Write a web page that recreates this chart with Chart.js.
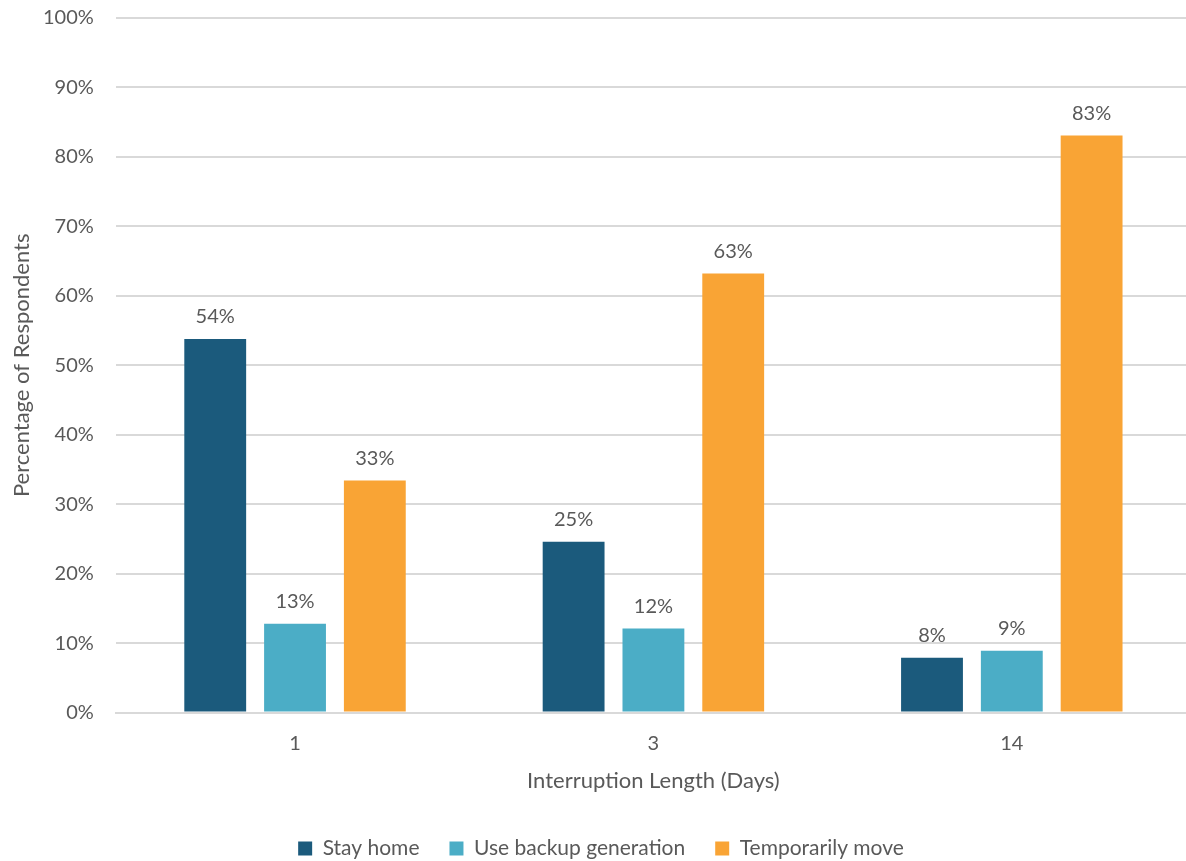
<!DOCTYPE html>
<html>
<head>
<meta charset="utf-8">
<script src="https://cdn.jsdelivr.net/npm/chart.js@4"></script>
<style>
  html, body { margin: 0; padding: 0; background: #fff; overflow: hidden; }
  #wrap { width: 1186px; height: 861px; overflow: hidden; }
  #grafica1 { display: block; margin-top: -16px; }
</style>
</head>
<body>
<div id="wrap"><canvas id="grafica1" width="1192" height="885"></canvas></div>
<script>
const dias = ['1', '3', '14'];
const stayHome = [53.8, 24.6, 7.9];
const backupGen = [12.8, 12.1, 8.9];
const tempMove = [33.4, 63.2, 83.1];

const gris = '#595959';
const fuente = "Lato, 'Noto Sans', sans-serif";

// etiquetas encima de cada barra
const etiquetas = {
    id: 'etiquetas',
    afterDatasetsDraw(chart) {
        const ctx = chart.ctx;
        ctx.save();
        ctx.font = '20px ' + fuente;
        ctx.fillStyle = gris;
        ctx.textAlign = 'center';
        ctx.textBaseline = 'bottom';
        chart.data.datasets.forEach((ds, i) => {
            chart.getDatasetMeta(i).data.forEach((bar, j) => {
                ctx.fillText(Math.round(ds.data[j]) + '%', bar.x, bar.y - 12);
            });
        });
        ctx.restore();
    }
};

const ctx = document.getElementById('grafica1').getContext('2d');
new Chart(ctx, {
    type: 'bar',
    data: {
        labels: dias,
        datasets: [
            { label: 'Stay home', data: stayHome, backgroundColor: '#1B5A7C' },
            { label: 'Use backup generation', data: backupGen, backgroundColor: '#4BADC6' },
            { label: 'Temporarily move', data: tempMove, backgroundColor: '#F9A435' }
        ]
    },
    options: {
        responsive: false,
        animation: false,
        layout: { padding: { left: 11, right: 1, top: 0, bottom: 0 } },
        datasets: { bar: { categoryPercentage: 0.668, barPercentage: 0.775 } },
        plugins: {
            legend: {
                position: 'bottom',
                labels: {
                    boxWidth: 14, boxHeight: 14, padding: 30,
                    color: gris, font: { family: fuente, size: 21 }
                }
            },
            tooltip: { enabled: false }
        },
        scales: {
            x: {
                grid: { display: false },
                border: { color: '#d9d9d9', width: 2 },
                ticks: { color: gris, font: { family: fuente, size: 20 }, padding: 11 },
                title: {
                    display: true, text: 'Interruption Length (Days)',
                    color: gris, font: { family: fuente, size: 22 }, padding: { top: 1, bottom: 14 }
                }
            },
            y: {
                min: 0, max: 100,
                ticks: {
                    stepSize: 10, color: gris, padding: 22,
                    font: { family: fuente, size: 20 },
                    callback: v => v + '%'
                },
                grid: { color: '#d9d9d9', lineWidth: 2, drawTicks: false },
                border: { display: false },
                title: {
                    display: true, text: 'Percentage of Respondents',
                    color: gris, font: { family: fuente, size: 22, lineHeight: 1 },
                    padding: { top: 0, bottom: -12 }
                }
            }
        }
    },
    plugins: [etiquetas]
});
</script>
</body>
</html>
